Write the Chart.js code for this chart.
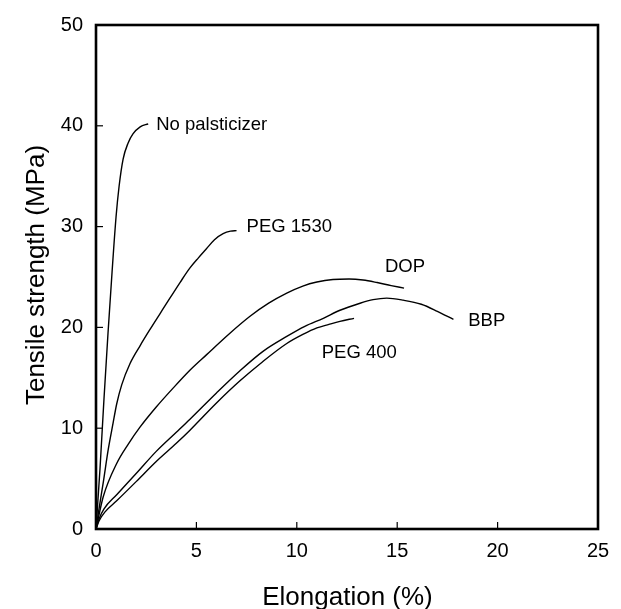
<!DOCTYPE html>
<html>
<head>
<meta charset="utf-8">
<script src="https://cdn.jsdelivr.net/npm/chart.js@4.4.1/dist/chart.umd.min.js"></script>
<style>
  html, body { margin: 0; padding: 0; background: #fff; }
  #wrap { width: 621px; height: 609px; }
</style>
</head>
<body>
<div id="wrap"><canvas id="chart" width="621" height="609"></canvas></div>
<script>
// Data: elongation (%) vs tensile strength (MPa)
const noPlastX = [0, 0.2, 0.4, 0.6, 0.8, 1.0, 1.15, 1.35, 1.6, 1.84, 2.2, 2.6];
const noPlastY = [0, 6.0, 13.0, 19.5, 25.5, 31.0, 34.0, 36.7, 38.3, 39.2, 39.9, 40.2];

const peg1530X = [0, 0.15, 0.36, 0.61, 0.85, 1.03, 1.28, 1.69, 2.2, 2.69, 3.2, 3.68, 4.2, 4.68, 5.1, 5.5, 5.9, 6.33, 6.7, 7.0];
const peg1530Y = [0, 2.0, 4.6, 7.9, 10.5, 12.4, 14.3, 16.4, 18.2, 19.8, 21.4, 22.9, 24.5, 25.9, 26.9, 27.8, 28.7, 29.3, 29.55, 29.6];

const dopX = [0, 0.36, 1.03, 1.6, 2.19, 3.0, 3.85, 4.7, 5.51, 6.6, 7.67, 8.6, 9.5, 10.3, 11.0, 11.8, 12.6, 13.3, 14.0, 14.7, 15.34];
const dopY = [0, 3.2, 6.5, 8.4, 10.1, 12.1, 14.0, 15.8, 17.3, 19.3, 21.1, 22.4, 23.4, 24.1, 24.5, 24.75, 24.8, 24.7, 24.45, 24.15, 23.9];

const bbpX = [0, 0.15, 0.4, 1.03, 2.0, 3.0, 4.0, 4.68, 6.0, 7.17, 8.3, 9.5, 10.4, 11.32, 12.15, 13.15, 13.8, 14.48, 15.3, 16.2, 17.0, 17.8];
const bbpY = [0, 1.0, 2.0, 3.4, 5.5, 7.7, 9.6, 10.9, 13.5, 15.7, 17.6, 19.1, 20.1, 20.9, 21.7, 22.4, 22.75, 22.9, 22.7, 22.3, 21.6, 20.8];

const peg400X = [0, 0.15, 0.45, 1.03, 2.0, 3.0, 4.0, 4.68, 6.0, 7.17, 8.3, 9.5, 10.3, 11.0, 11.6, 12.15, 12.85];
const peg400Y = [0, 0.8, 1.7, 2.8, 4.7, 6.7, 8.5, 9.8, 12.5, 14.7, 16.6, 18.4, 19.3, 19.95, 20.3, 20.6, 20.9];

const xTicks = [0, 5, 10, 15, 20, 25];
const yTicks = [0, 10, 20, 30, 40, 50];

// curve labels, anchored in data units (left edge, text baseline)
const curveLabels = [
  { text: 'No palsticizer', x: 3.0, y: 39.6 },
  { text: 'PEG 1530', x: 7.5, y: 29.5 },
  { text: 'DOP', x: 14.39, y: 25.45 },
  { text: 'BBP', x: 18.54, y: 20.1 },
  { text: 'PEG 400', x: 11.24, y: 17.0 }
];

const fontFamily = '"Liberation Sans", Arial, sans-serif';

function pairs(xs, ys) {
  return xs.map((x, i) => ({ x: x, y: ys[i] }));
}

function line(label, xs, ys) {
  return {
    label: label,
    data: pairs(xs, ys),
    showLine: true,
    borderColor: '#000',
    borderWidth: 1.4,
    pointRadius: 0,
    fill: false,
    cubicInterpolationMode: 'monotone'
  };
}

// frame, inward ticks, curve labels and axis titles
const framePlugin = {
  id: 'frame',
  afterDraw(chart) {
    const ctx = chart.ctx;
    const a = chart.chartArea;
    const xs = chart.scales.x, ys = chart.scales.y;
    ctx.save();
    ctx.strokeStyle = '#000';
    ctx.lineWidth = 1.2;
    xTicks.slice(1, -1).forEach(t => {
      const px = xs.getPixelForValue(t);
      ctx.beginPath(); ctx.moveTo(px, a.bottom); ctx.lineTo(px, a.bottom - 7); ctx.stroke();
    });
    yTicks.slice(1, -1).forEach(t => {
      const py = ys.getPixelForValue(t);
      ctx.beginPath(); ctx.moveTo(a.left, py); ctx.lineTo(a.left + 7, py); ctx.stroke();
    });
    ctx.lineWidth = 2.6;
    ctx.strokeRect(a.left, a.top, a.right - a.left, a.bottom - a.top);

    ctx.fillStyle = '#000';
    ctx.font = '18.5px ' + fontFamily;
    ctx.textAlign = 'left';
    ctx.textBaseline = 'alphabetic';
    curveLabels.forEach(l => {
      ctx.fillText(l.text, xs.getPixelForValue(l.x), ys.getPixelForValue(l.y));
    });

    ctx.font = '26px ' + fontFamily;
    ctx.textAlign = 'center';
    ctx.fillText('Elongation (%)', 347.5, 605);
    ctx.translate(44, 275);
    ctx.rotate(-Math.PI / 2);
    ctx.fillText('Tensile strength (MPa)', 0, 0);
    ctx.restore();
  }
};

new Chart(document.getElementById('chart'), {
  type: 'scatter',
  data: {
    datasets: [
      line('No palsticizer', noPlastX, noPlastY),
      line('PEG 1530', peg1530X, peg1530Y),
      line('DOP', dopX, dopY),
      line('BBP', bbpX, bbpY),
      line('PEG 400', peg400X, peg400Y)
    ]
  },
  options: {
    responsive: false,
    animation: false,
    layout: { padding: { left: 0, right: 23, top: 21, bottom: 0 } },
    plugins: { legend: { display: false }, tooltip: { enabled: false } },
    scales: {
      x: {
        type: 'linear', min: 0, max: 25,
        afterBuildTicks: s => { s.ticks = xTicks.map(v => ({ value: v })); },
        afterFit: s => { s.height = 80; },
        grid: { display: false, drawTicks: false },
        border: { display: false },
        ticks: { color: '#000', padding: 10, maxRotation: 0, font: { size: 20, family: fontFamily } }
      },
      y: {
        type: 'linear', min: 0, max: 50,
        afterBuildTicks: s => { s.ticks = yTicks.map(v => ({ value: v })); },
        afterFit: s => { s.width = 96; },
        grid: { display: false, drawTicks: false },
        border: { display: false },
        ticks: { color: '#000', padding: 13, font: { size: 20, family: fontFamily } }
      }
    }
  },
  plugins: [framePlugin]
});
</script>
</body>
</html>
